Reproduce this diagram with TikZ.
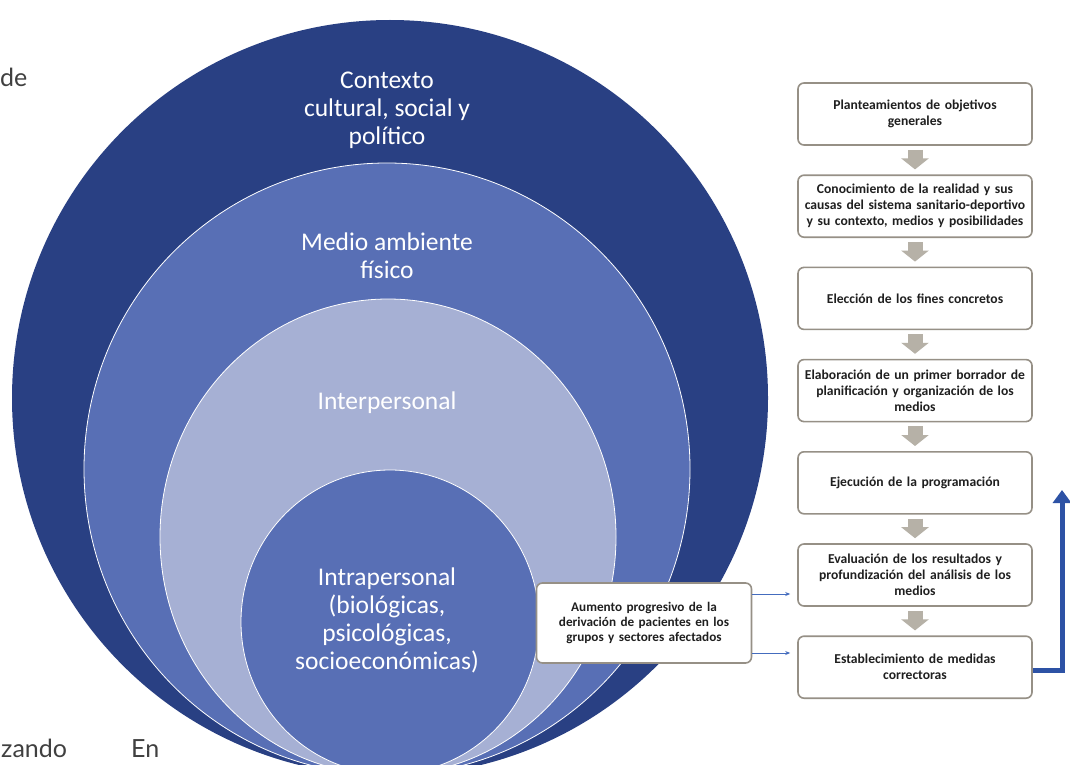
\documentclass[tikz,border=0pt]{standalone}
\usepackage{fontspec}
\setmainfont{Carlito}
\newfontfamily\pagefont{Lato}
\usetikzlibrary{arrows.meta,positioning}
\definecolor{ringdark}{RGB}{41,64,131}
\definecolor{ringmid}{RGB}{88,111,181}
\definecolor{ringlight}{RGB}{166,176,212}
\definecolor{boxline}{RGB}{150,144,134}
\definecolor{stepgray}{RGB}{182,177,167}
\definecolor{linkblue}{RGB}{68,108,190}
\definecolor{loopblue}{RGB}{45,82,165}
\tikzstyle{ring}=[draw=white, line width=0.8pt]
\tikzstyle{ringlabel}=[text=white, align=center,
  font=\fontsize{25.5}{28}\selectfont]
\tikzstyle{stepbox}=[draw=boxline, line width=1.6pt, rounded corners=6pt,
  fill=white, minimum width=234pt, minimum height=62pt, text width=230pt,
  align=center, inner sep=1pt, text=black!88,
  font=\bfseries\fontsize{13.6}{16}\selectfont]
\tikzstyle{steparrow}=[draw=stepgray, line width=15pt,
  -{Triangle[width=27pt,length=11pt]}, shorten <=4pt, shorten >=5pt]
\tikzstyle{link}=[draw=linkblue, line width=1pt,
  -{Stealth[length=5pt,width=4pt]}, shorten >=7pt]
\tikzstyle{loop}=[draw=loopblue, line width=5pt,
  -{Triangle[width=18pt,length=13pt]}]
\tikzstyle{pagetext}=[text=black!75, inner sep=0pt,
  font=\pagefont\fontsize{25}{30}\selectfont]

\begin{document}
\begin{tikzpicture}[x=1pt, y=-1pt, node distance=92.2pt, on grid]
  \useasboundingbox (0,0) rectangle (1070,765);
  \fill[white] (0,0) rectangle (1070,765);

  % nested rings
  \fill[ringdark] (390,398) ellipse [x radius=378, y radius=378];
  \filldraw[ring, fill=ringmid] (387,469) ellipse [x radius=303, y radius=306];
  \filldraw[ring, fill=ringlight] (388,537) ellipse [x radius=228, y radius=238];
  \filldraw[ring, fill=ringmid] (390,622) ellipse [x radius=149, y radius=152];

  \node[ringlabel] (context) at (387,110) {Contexto\\cultural, social y\\político};
  \node[ringlabel] (medio) at (387,256) {Medio ambiente\\físico};
  \node[ringlabel] (inter) at (387,403) {Interpersonal};
  \node[ringlabel] (intra) at (387,620) {Intrapersonal\\(biológicas,\\psicológicas,\\socioeconómicas)};

  % planning steps
  \node[stepbox] (b1) at (915,114) {Planteamientos de objetivos\\generales};
  \node[stepbox, below=of b1] (b2) {Conocimiento de la realidad y sus\\causas del sistema sanitario-deportivo\\y su contexto, medios y posibilidades};
  \node[stepbox, below=of b2] (b3) {Elección de los fines concretos};
  \node[stepbox, below=of b3] (b4) {Elaboración de un primer borrador de\\planificación y organización de los\\medios};
  \node[stepbox, below=of b4] (b5) {Ejecución de la programación};
  \node[stepbox, below=of b5] (b6) {Evaluación de los resultados y\\profundización del análisis de los\\medios};
  \node[stepbox, below=of b6] (b7) {Establecimiento de medidas\\correctoras};

  \draw[steparrow] (b1) -- (b2);
  \draw[steparrow] (b2) -- (b3);
  \draw[steparrow] (b3) -- (b4);
  \draw[steparrow] (b4) -- (b5);
  \draw[steparrow] (b5) -- (b6);
  \draw[steparrow] (b6) -- (b7);

  \node[stepbox, minimum width=215pt, minimum height=80pt, text width=213pt,
    font=\bfseries\fontsize{13.2}{15}\selectfont] (aum) at (644,623)
    {Aumento progresivo de la\\derivación de pacientes en los\\grupos y sectores afectados};
  \coordinate (aumup) at ([yshift=29pt]aum.east);
  \coordinate (aumdown) at ([yshift=-30pt]aum.east);
  \draw[link] (aumup) -- (aumup -| b6.west);
  \draw[link] (aumdown) -- (aumdown -| b7.west);

  \coordinate (looptop) at (1062,490);
  \draw[loop] ([yshift=-3pt]b7.east) -| (looptop);

  % page text around the figure
  \node[pagetext, anchor=base west] (de) at (0,87) {de};
  \node[pagetext, anchor=base west] (zando) at (1,757) {zando};
  \node[pagetext, anchor=base west] (en) at (131,757) {En};
\end{tikzpicture}
\end{document}
